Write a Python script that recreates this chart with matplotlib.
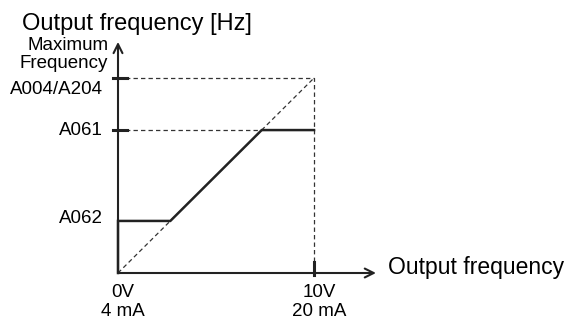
import matplotlib.pyplot as plt

# input scale (0V..10V) and output levels (percent of maximum frequency)
x_max = 10.0
f_max = 100.0
a061 = 73.3   # upper limit
a062 = 26.7   # lower limit

y_labels = ["A004/A204", "A061", "A062"]
y_values = [f_max, a061, a062]
x_ticks = [0.0, x_max]
x_labels = ["0V\n4 mA", "10V\n20 mA"]

plt.rcParams['font.family'] = ['Liberation Sans', 'DejaVu Sans']

fig = plt.figure(figsize=(5.71, 3.23), dpi=100)
ax = fig.add_axes([0, 0, 1, 1])
ax.set_xlim(-6.02, 23.11)
ax.set_ylim(-25.64, 140.0)
ax.axis('off')

k = f_max / x_max
x_lo = a062 / k
x_hi = a061 / k

# reference lines
dash = (0, (3.5, 2.5))
ax.plot([0, x_max], [0, f_max], ls=dash, color='#333333', lw=0.9)
ax.plot([0, x_max, x_max], [f_max, f_max, 0], ls=dash, color='#333333', lw=0.9)
ax.plot([0, x_hi], [a061, a061], ls=dash, color='#333333', lw=0.9)

# characteristic
ax.plot([0, 0, x_lo, x_hi, x_max], [0, a062, a062, a061, a061],
        color='#222222', lw=1.8, solid_joinstyle='miter')

# axes with arrows
ax.annotate('', xy=(13.16, 0), xytext=(0, 0),
            arrowprops=dict(arrowstyle='->', lw=1.5, color='#222222',
                            mutation_scale=16, shrinkA=0, shrinkB=0))
ax.annotate('', xy=(0, 118.5), xytext=(0, 0),
            arrowprops=dict(arrowstyle='->', lw=1.5, color='#222222',
                            mutation_scale=16, shrinkA=0, shrinkB=0))

# ticks
for v in y_values[:2]:
    ax.plot([-0.25, 0.45], [v, v], color='#222222', lw=2.2)
ax.plot([x_max, x_max], [-1, 5.6], color='#222222', lw=2.2)

# labels
label_y = {"A004/A204": 94.1, "A061": a061, "A062": a062 + 1.2}
for lab in y_labels:
    ax.text(-0.75, label_y[lab], lab, ha='right', va='center', fontsize=13.5)
ax.text(-0.5, 112.0, "Maximum\nFrequency", ha='right', va='center',
        fontsize=13.5, linespacing=1.1)
for xv, lab in zip(x_ticks, x_labels):
    ax.text(xv + 0.25, -5.8, lab, ha='center', va='top', fontsize=13.5,
            linespacing=1.1)
ax.text(13.78, -0.5, "Output frequency", ha='left', va='baseline', fontsize=16.5)
ax.text(-4.9, 124.6, "Output frequency [Hz]", ha='left', va='baseline', fontsize=17)

fig.savefig('out.png', dpi=100)
